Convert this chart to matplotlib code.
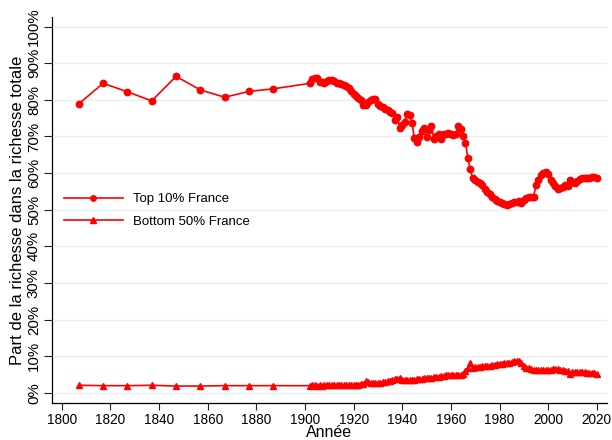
import numpy as np
import matplotlib
matplotlib.use("Agg")
import matplotlib.pyplot as plt
from matplotlib.ticker import FuncFormatter

# ---- data ----
decade_years = [1807, 1817, 1827, 1837, 1847, 1857, 1867, 1877, 1887]
top10_decades = [78.9, 84.5, 82.2, 79.7, 86.4, 82.7, 80.7, 82.3, 83.0]
bottom50_decades = [2.1, 2.0, 2.0, 2.1, 1.9, 1.9, 2.0, 2.0, 2.0]

annual_start = 1902
top10_annual = [
    84.5, 85.8, 86.0, 86.0, 84.8, 84.9, 84.7, 85.0,            # 1902-1909
    85.3, 85.3, 85.0, 84.7, 84.6, 84.3, 84.0, 83.8, 83.2, 82.5,  # 1910-1919
    81.7, 81.0, 80.6, 80.0, 78.6, 78.6, 79.5, 80.0, 80.2, 80.1,  # 1920-1929
    78.8, 78.3, 78.0, 77.6, 77.2, 76.8, 76.4, 74.6, 75.4, 72.2,  # 1930-1939
    73.0, 74.0, 76.2, 75.8, 73.8, 69.6, 68.6, 69.8, 71.5, 72.2,  # 1940-1949
    69.8, 71.8, 72.8, 69.3, 70.1, 70.6, 69.3, 70.6, 70.6, 71.0,  # 1950-1959
    70.6, 70.5, 70.6, 72.8, 72.0, 70.0, 68.3, 64.0, 61.0, 58.6,  # 1960-1969
    58.0, 57.7, 57.4, 56.8, 55.8, 54.9, 54.2, 53.6, 53.0, 52.5,  # 1970-1979
    52.2, 51.8, 51.5, 51.3, 51.5, 51.8, 52.0, 52.2, 52.4, 51.9,  # 1980-1989
    52.6, 53.2, 53.6, 53.6, 53.5, 56.7, 58.1, 59.4, 60.0, 60.2,  # 1990-1999
    59.7, 58.1, 57.2, 56.4, 55.8, 56.0, 56.3, 56.7, 56.5, 58.2,  # 2000-2009
    57.6, 57.2, 57.8, 58.3, 58.6, 58.6, 58.6, 58.8, 59.0, 58.9,  # 2010-2019
    58.7,                                                        # 2020
]
bottom50_annual = [
    2.0, 2.3, 2.1, 2.0, 2.3, 2.0, 2.2, 2.2,                      # 1902-1909
    2.2, 2.2, 2.2, 2.2, 2.2, 2.2, 2.2, 2.3, 2.3, 2.3,            # 1910-1919
    2.3, 2.3, 2.3, 2.4, 2.5, 3.3, 3.0, 2.8, 2.7, 2.8,            # 1920-1929
    2.7, 2.8, 2.9, 3.0, 3.2, 3.4, 3.6, 3.7, 3.9, 4.1,            # 1930-1939
    3.6, 3.5, 3.6, 3.6, 3.6, 3.6, 3.7, 3.8, 3.9, 4.0,            # 1940-1949
    4.1, 4.2, 4.2, 4.3, 4.4, 4.5, 4.6, 4.7, 4.8, 4.9,            # 1950-1959
    4.9, 5.0, 4.9, 4.9, 5.0, 5.3, 6.0, 6.8, 8.2, 6.8,            # 1960-1969
    7.0, 7.1, 7.2, 7.3, 7.4, 7.4, 7.5, 7.6, 7.7, 7.8,            # 1970-1979
    7.9, 8.0, 8.1, 8.2, 8.3, 8.5, 8.6, 8.7, 8.6, 8.2,            # 1980-1989
    7.5, 6.7, 6.7, 6.6, 6.4, 6.3, 6.2, 6.2, 6.2, 6.2,            # 1990-1999
    6.3, 6.4, 6.6, 6.6, 6.5, 6.4, 6.3, 6.1, 5.9, 5.3,            # 2000-2009
    5.6, 5.7, 5.7, 5.7, 5.6, 5.6, 5.5, 5.5, 5.5, 5.4,            # 2010-2019
    5.3,                                                         # 2020
]

years = decade_years + list(range(annual_start, annual_start + len(top10_annual)))
top10 = top10_decades + top10_annual
bottom50 = bottom50_decades + bottom50_annual

x_ticks = list(range(1800, 2021, 20))
y_ticks = list(range(0, 101, 10))

# ---- plot ----
plt.rcParams['font.family'] = ['Liberation Sans', 'DejaVu Sans']
fig = plt.figure(figsize=(6.12, 4.40), dpi=100)
ax = fig.add_axes([52/612, 37/440, 555/612, 386/440])

red = '#ff0000'
ax.plot(years, top10, color=red, lw=1.2, marker='o', ms=4.6, mec=red, mfc=red,
        label='Top 10% France', zorder=3)
ax.plot(years, bottom50, color=red, lw=1.2, marker='^', ms=5.0, mec=red, mfc=red,
        label='Bottom 50% France', zorder=3)

ax.set_xlim(1796.0, 2024.2)
ax.set_ylim(-2.73, 102.6)
ax.set_xticks(x_ticks)
ax.set_yticks(y_ticks)
ax.yaxis.set_major_formatter(FuncFormatter(lambda v, p: f"{int(v)}%"))
for lab in ax.get_yticklabels():
    lab.set_rotation(90)
    lab.set_va('center')
ax.tick_params(axis='both', width=0.8, color='#222222')
ax.tick_params(axis='x', length=5, pad=2, labelsize=9.8)
ax.tick_params(axis='y', length=6, pad=2, labelsize=10.8)
ax.grid(axis='y', color='#eaf0f2', lw=1.0, zorder=0)
ax.set_axisbelow(True)
for s in ['top', 'right']:
    ax.spines[s].set_visible(False)
for s in ['left', 'bottom']:
    ax.spines[s].set_linewidth(0.9)

ax.set_xlabel('Année', fontsize=11.5, labelpad=-1)
ax.set_ylabel('Part de la richesse dans la richesse totale', fontsize=12, labelpad=1)

leg = ax.legend(loc='center left', bbox_to_anchor=(0.0959, 229.5/440),
                bbox_transform=fig.transFigure, borderaxespad=0, frameon=False,
                fontsize=9.5, handlelength=4.45, handletextpad=0.76, labelspacing=0.8,
                markerscale=0.85)

fig.savefig('out.png', dpi=100)
